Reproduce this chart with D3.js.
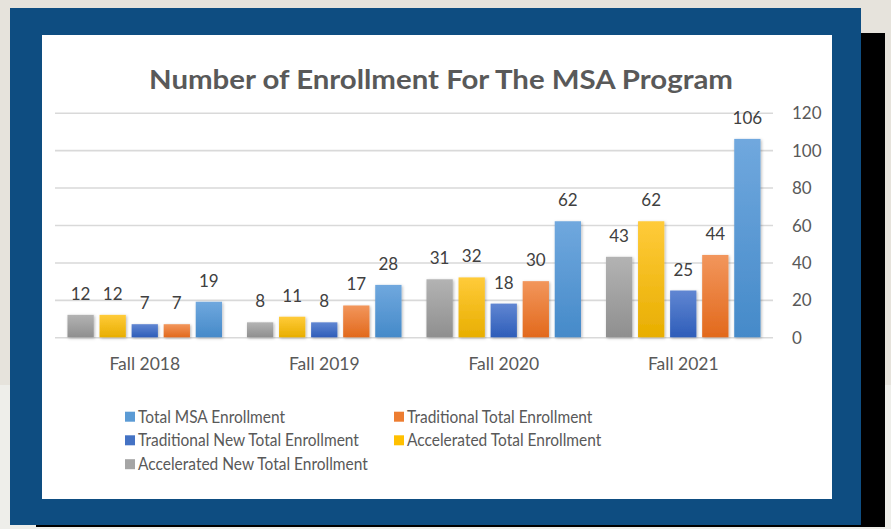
<!DOCTYPE html>
<html>
<head>
<meta charset="utf-8">
<script src="https://cdn.jsdelivr.net/npm/d3@7"></script>
<style>
html,body{margin:0;padding:0;background:#e6e3dc;}
svg{display:block;}
</style>
</head>
<body>
<svg id="chart" width="891" height="529"></svg>
<script>
// ---- data ----
const categories = ["Fall 2018", "Fall 2019", "Fall 2020", "Fall 2021"];
const seriesNames = [
  "Accelerated New Total Enrollment",
  "Accelerated Total Enrollment",
  "Traditional New Total Enrollment",
  "Traditional Total Enrollment",
  "Total MSA Enrollment"
];
const acceleratedNew = [12, 8, 31, 43];
const acceleratedTotal = [12, 11, 32, 62];
const traditionalNew = [7, 8, 18, 25];
const traditionalTotal = [7, 17, 30, 44];
const totalMSA = [19, 28, 62, 106];
const yTicks = [0, 20, 40, 60, 80, 100, 120];
const legendOrder = [
  "Total MSA Enrollment",
  "Traditional Total Enrollment",
  "Traditional New Total Enrollment",
  "Accelerated Total Enrollment",
  "Accelerated New Total Enrollment"
];
const titleText = "Number of Enrollment For The MSA Program";

// ---- styles ----
const seriesValues = [acceleratedNew, acceleratedTotal, traditionalNew, traditionalTotal, totalMSA];
const colors = {
  "Accelerated New Total Enrollment": ["#b3b3b3", "#8f8f8f", "#a5a5a5"],
  "Accelerated Total Enrollment": ["#ffcb3a", "#e8ae00", "#ffc000"],
  "Traditional New Total Enrollment": ["#6086d2", "#2e5db9", "#4472c4"],
  "Traditional Total Enrollment": ["#f2965c", "#e2691c", "#ed7d31"],
  "Total MSA Enrollment": ["#70a8de", "#458ac9", "#5b9bd5"]
};
const FONT = "Lato, 'Open Sans', sans-serif";

const svg = d3.select("#chart");
const defs = svg.append("defs");
seriesNames.forEach((s, i) => {
  const g = defs.append("linearGradient").attr("id", "grad" + i)
    .attr("x1", 0).attr("y1", 0).attr("x2", 0).attr("y2", 1);
  g.append("stop").attr("offset", "0%").attr("stop-color", colors[s][0]);
  g.append("stop").attr("offset", "100%").attr("stop-color", colors[s][1]);
});
const f = defs.append("filter").attr("id", "shadow").attr("x", "-30%").attr("y", "-10%").attr("width", "160%").attr("height", "130%");
f.append("feDropShadow").attr("dx", 1).attr("dy", 1).attr("stdDeviation", 1.6).attr("flood-color", "#000").attr("flood-opacity", 0.28);

// background / frame
svg.append("rect").attr("x", 0).attr("y", 385).attr("width", 891).attr("height", 144).attr("fill", "#eeeeea");
svg.append("rect").attr("x", 36).attr("y", 33).attr("width", 849).attr("height", 494).attr("fill", "#000");
svg.append("rect").attr("x", 10).attr("y", 8).attr("width", 851).attr("height", 517).attr("fill", "#0e4d81");
svg.append("rect").attr("x", 42).attr("y", 35).attr("width", 790).attr("height", 464).attr("fill", "#ffffff");

// title
const title = svg.append("text").attr("x", 441).attr("y", 89)
  .attr("text-anchor", "middle")
  .attr("font-family", FONT).attr("font-weight", "bold").attr("font-size", 26)
  .attr("fill", "#595959")
  .text(titleText);
title.attr("textLength", 584).attr("lengthAdjust", "spacingAndGlyphs");

// scales
const plotLeft = 55, plotRight = 773, plotTop = 112.7, plotBottom = 337.3;
const x0 = d3.scaleBand().domain(categories).range([plotLeft, plotRight]).paddingInner(0.139).paddingOuter(0.0695);
const x1 = d3.scaleBand().domain(seriesNames).range([0, x0.bandwidth()]).paddingInner(0.18);
const y = d3.scaleLinear().domain([0, 120]).range([plotBottom, plotTop]);

// gridlines
const grid = svg.append("g").attr("transform", `translate(${plotLeft},0)`)
  .call(d3.axisLeft(y).tickValues(yTicks).tickSize(-(plotRight - plotLeft)).tickFormat(""));
grid.select(".domain").remove();
grid.selectAll("line").attr("stroke", "#d9d9d9").attr("stroke-width", 1.6);

// right axis labels
const ya = svg.append("g").attr("transform", `translate(${plotRight},0)`)
  .call(d3.axisRight(y).tickValues(yTicks).tickSize(0).tickPadding(19));
ya.select(".domain").remove();
ya.selectAll("text").attr("font-family", FONT).attr("font-size", 17).attr("fill", "#595959").attr("dy", "0.36em");

// category axis
const xa = svg.append("g").attr("transform", `translate(0,${plotBottom})`)
  .call(d3.axisBottom(x0).tickSize(0).tickPadding(20));
xa.select(".domain").remove();
xa.selectAll("text").attr("font-family", FONT).attr("font-size", 17.5).attr("fill", "#595959");

// bars
const groups = svg.append("g").selectAll("g").data(categories).join("g")
  .attr("transform", d => `translate(${x0(d)},0)`);
groups.each(function(cat, ci) {
  const g = d3.select(this);
  seriesNames.forEach((s, si) => {
    const v = seriesValues[si][ci];
    g.append("rect")
      .attr("x", x1(s)).attr("y", y(v))
      .attr("width", x1.bandwidth()).attr("height", y(0) - y(v))
      .attr("fill", `url(#grad${si})`)
      .attr("filter", "url(#shadow)");
    g.append("text")
      .attr("x", x1(s) + x1.bandwidth() / 2).attr("y", y(v) - 15)
      .attr("text-anchor", "middle")
      .attr("font-family", FONT).attr("font-size", 17).attr("fill", "#404040")
      .text(v);
  });
});

// legend
const legendPos = [[125, 416.7], [394, 416.7], [125, 440.3], [394, 440.3], [125, 464.2]];
const leg = svg.append("g");
legendOrder.forEach((s, i) => {
  const [lx, ly] = legendPos[i];
  leg.append("rect").attr("x", lx).attr("y", ly - 5).attr("width", 10).attr("height", 10)
    .attr("fill", colors[s][2]);
  const t = leg.append("text").attr("x", lx + 13).attr("y", ly + 6)
    .attr("font-family", FONT).attr("font-size", 17.5).attr("fill", "#595959")
    .text(s);
  const w = t.node().getComputedTextLength();
  t.attr("textLength", w * 0.885).attr("lengthAdjust", "spacingAndGlyphs");
});
</script>
</body>
</html>
